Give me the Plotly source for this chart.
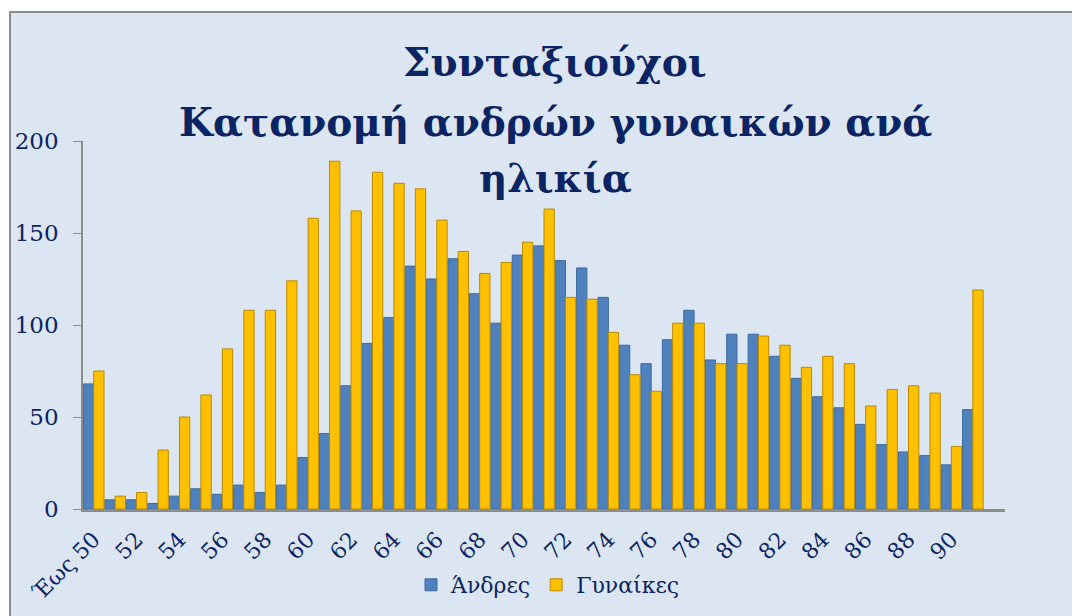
import plotly.graph_objects as go

categories = ["Έως 50"] + [str(a) for a in range(51, 91)] + ["91"]
men = [68, 5, 5, 3, 7, 11, 8, 13, 9, 13, 28, 41, 67, 90, 104, 132, 125, 136, 117, 101,
       138, 143, 135, 131, 115, 89, 79, 92, 108, 81, 95, 95, 83, 71, 61, 55, 46, 35, 31, 29,
       24, 54]
women = [75, 7, 9, 32, 50, 62, 87, 108, 108, 124, 158, 189, 162, 183, 177, 174, 157, 140, 128, 134,
         145, 163, 115, 114, 96, 73, 64, 101, 101, 79, 79, 94, 89, 77, 83, 79, 56, 65, 67, 63,
         34, 119]
tick_labels = categories[0:41:2]
title_lines = ["Συνταξιούχοι", "Κατανομή ανδρών γυναικών ανά", "ηλικία"]

NAVY = "#0B2463"
SERIF = "DejaVu Serif"

fig = go.Figure()
fig.add_trace(go.Bar(x=categories, y=men, name="Άνδρες",
                     marker=dict(color="#4F81BD", line=dict(color="#3B6AA3", width=1))))
fig.add_trace(go.Bar(x=categories, y=women, name="Γυναίκες",
                     marker=dict(color="#FFC000", line=dict(color="#B88A00", width=1))))

# page is offset by the 8px body margin
OFF = 8
W, H = 1080 - OFF, 616 - OFF
L, R, T, B = 83 - OFF, 75, 141 - OFF, 616 - 509
pw, ph = W - L - R, H - T - B


def py(page_y):
    """page pixel y -> paper y"""
    return (T + ph - (page_y - OFF)) / ph


def px(page_x):
    return (page_x - OFF - L) / pw


title_y = [62, 122, 178]
annotations = [dict(text=t, xref="paper", yref="paper", x=px(555), y=py(yy), xanchor="center",
                    yanchor="middle", showarrow=False,
                    font=dict(family=SERIF, size=39, color=NAVY, weight="bold"))
               for t, yy in zip(title_lines, title_y)]

fig.update_layout(
    width=W, height=H,
    margin=dict(l=L, r=R, t=T, b=B, autoexpand=False),
    paper_bgcolor="white",
    plot_bgcolor="rgba(0,0,0,0)",
    barmode="group", bargap=0.04, bargroupgap=0,
    annotations=annotations,
    legend=dict(orientation="h", x=px(548), xanchor="center", y=py(585), yanchor="middle",
                font=dict(family=SERIF, size=22, color=NAVY), bgcolor="rgba(0,0,0,0)",
                itemwidth=30, traceorder="normal"),
    showlegend=True,
    xaxis=dict(type="category", range=[-0.5, 42.5], tickmode="array", tickvals=tick_labels,
               ticktext=tick_labels, tickangle=-45, showgrid=False, showline=True,
               linecolor="#8C8C8C", linewidth=3, ticks="", ticklabelstandoff=6,
               tickfont=dict(family=SERIF, size=22, color=NAVY)),
    yaxis=dict(range=[0, 200], tickvals=[0, 50, 100, 150, 200], showgrid=False, showline=True,
               linecolor="#8C8C8C", linewidth=1.5, ticks="outside", ticklen=8, tickcolor="#8C8C8C",
               zeroline=False, ticklabelstandoff=10,
               tickfont=dict(family=SERIF, size=23, color=NAVY)),
    shapes=[dict(type="rect", xref="paper", yref="paper",
                 x0=px(10), x1=px(1200), y0=py(700), y1=py(12),
                 fillcolor="#DCE6F2", line=dict(color="#8C8C8C", width=2), layer="below")],
)

fig.write_html("out.html")
